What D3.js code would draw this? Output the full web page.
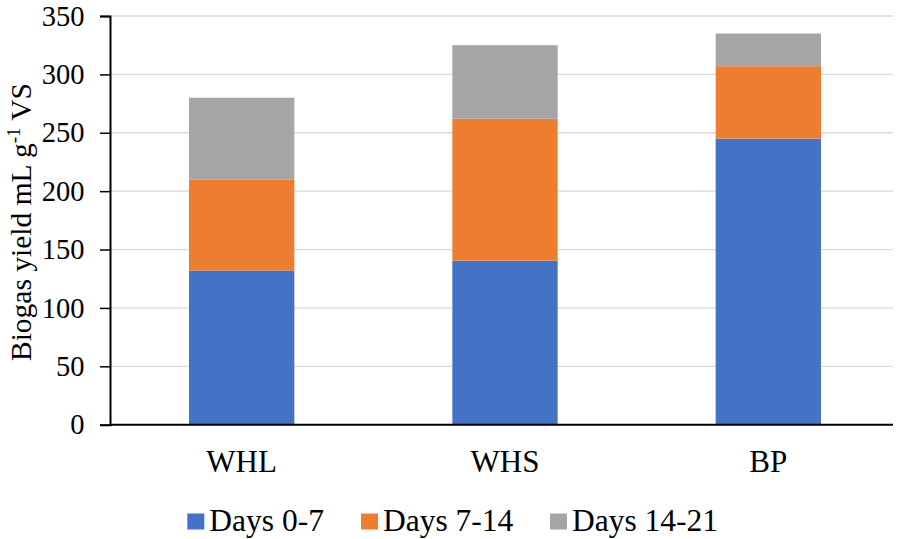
<!DOCTYPE html>
<html>
<head>
<meta charset="utf-8">
<script src="https://cdn.jsdelivr.net/npm/d3@7"></script>
<style>
  html, body { margin: 0; padding: 0; background: #fff; }
</style>
</head>
<body>
<svg id="chart" width="898" height="539"></svg>
<script>
// Biogas yield per substrate, split by digestion period
const categories = ["WHL", "WHS", "BP"];
const seriesNames = ["Days 0-7", "Days 7-14", "Days 14-21"];
const days0to7 = [132, 140.5, 245];
const days7to14 = [78, 121.5, 62];
const days14to21 = [70, 63, 28];
const yTicks = [0, 50, 100, 150, 200, 250, 300, 350];
const colors = ["#4472c4", "#ed7d31", "#a5a5a5"];

const FONT = '"Liberation Serif"';

const rows = categories.map((c, i) => ({
  cat: c,
  "Days 0-7": days0to7[i],
  "Days 7-14": days7to14[i],
  "Days 14-21": days14to21[i]
}));

const svg = d3.select("#chart");
const plotLeft = 110, plotRight = 893;

const x = d3.scaleBand()
  .domain(categories)
  .range([plotLeft, 900])
  .paddingInner(0.6)
  .paddingOuter(0.3);

const y = d3.scaleLinear()
  .domain([0, 350])
  .range([424.7, 16]);

// Horizontal gridlines
svg.append("g")
  .selectAll("line")
  .data(yTicks.filter(t => t > 0))
  .join("line")
  .attr("x1", plotLeft)
  .attr("x2", plotRight)
  .attr("y1", d => y(d))
  .attr("y2", d => y(d))
  .attr("stroke", "#d9d9d9")
  .attr("stroke-width", 1.3);

// Stacked bars
const layers = d3.stack().keys(seriesNames)(rows);

svg.append("g")
  .selectAll("g")
  .data(layers)
  .join("g")
  .attr("fill", (d, i) => colors[i])
  .selectAll("rect")
  .data(d => d)
  .join("rect")
  .attr("x", d => x(d.data.cat))
  .attr("width", x.bandwidth())
  .attr("y", d => y(d[1]))
  .attr("height", d => y(d[0]) - y(d[1]));

// Y axis
const yAxis = d3.axisLeft(y)
  .tickValues(yTicks)
  .tickSize(10)
  .tickPadding(15.5);

const gy = svg.append("g")
  .attr("transform", `translate(${plotLeft},0)`)
  .call(yAxis);
gy.select(".domain").attr("stroke", "#000").attr("stroke-width", 2);
gy.selectAll(".tick line").attr("stroke", "#000").attr("stroke-width", 1.5);
gy.selectAll(".tick text")
  .style("font-family", FONT)
  .style("font-size", "28.5px")
  .attr("fill", "#000");

// X axis baseline
svg.append("line")
  .attr("x1", plotLeft)
  .attr("x2", plotRight)
  .attr("y1", y(0))
  .attr("y2", y(0))
  .attr("stroke", "#000")
  .attr("stroke-width", 2);

// Category labels
svg.append("g")
  .selectAll("text")
  .data(categories)
  .join("text")
  .attr("x", d => x(d) + x.bandwidth() / 2)
  .attr("y", 472)
  .attr("text-anchor", "middle")
  .style("font-family", FONT)
  .style("font-size", "31px")
  .text(d => d);

// Y axis title
const title = svg.append("text")
  .attr("transform", "translate(31,222) rotate(-90)")
  .attr("text-anchor", "middle")
  .style("font-family", FONT)
  .style("font-size", "29.5px");
title.append("tspan").text("Biogas yield mL g");
title.append("tspan").style("font-size", "19px").attr("dy", -11).text("-1");
title.append("tspan").attr("dy", 11).text(" VS");

// Legend
const legendX = [187.3, 361, 550];
const lg = svg.append("g")
  .selectAll("g")
  .data(seriesNames)
  .join("g")
  .attr("transform", (d, i) => `translate(${legendX[i]},513.5)`);
lg.append("rect")
  .attr("width", 17)
  .attr("height", 16)
  .attr("fill", (d, i) => colors[i]);
lg.append("text")
  .attr("x", 22)
  .attr("y", 17.2)
  .style("font-family", FONT)
  .style("font-size", "31.5px")
  .text(d => d);
</script>
</body>
</html>
